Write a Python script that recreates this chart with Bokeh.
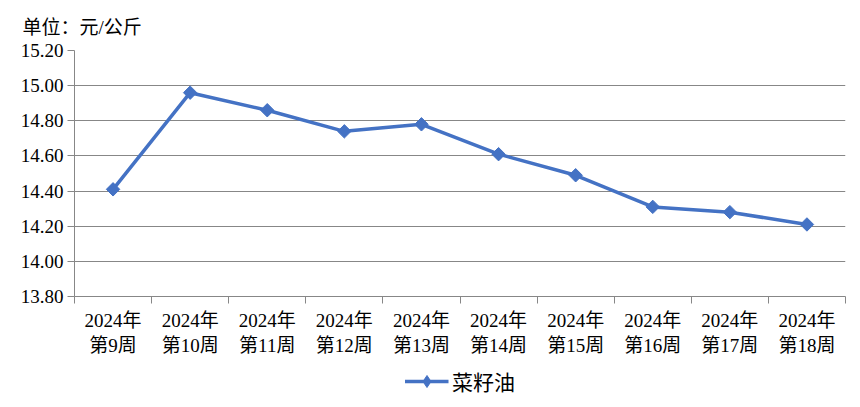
from bokeh.plotting import figure
from bokeh.models import FixedTicker, NumeralTickFormatter, Legend, LegendItem, Range1d
from bokeh.layouts import column
from bokeh.embed import file_html
from bokeh.resources import INLINE
import math

weeks = ["2024年\n第9周", "2024年\n第10周", "2024年\n第11周", "2024年\n第12周", "2024年\n第13周",
         "2024年\n第14周", "2024年\n第15周", "2024年\n第16周", "2024年\n第17周", "2024年\n第18周"]
prices = [14.41, 14.96, 14.86, 14.74, 14.78, 14.61, 14.49, 14.31, 14.28, 14.21]
y_ticks = [13.80, 14.00, 14.20, 14.40, 14.60, 14.80, 15.00, 15.20]
series_name = "菜籽油"
unit_text = "单位：元/公斤"

FONT = "'Liberation Serif', 'Noto Sans CJK SC'"
GRID = "#878787"
BLUE = "#4472C4"
LINE_W = 3.5
MARK_SIZE = 9.5

xs = list(range(len(weeks)))

p = figure(width=852, height=363, output_backend="svg", toolbar_location=None,
           x_range=Range1d(-0.5, len(weeks) - 0.5), y_range=Range1d(y_ticks[0], y_ticks[-1]),
           min_border_left=74, min_border_right=7, min_border_top=50, min_border_bottom=67)

p.title.text = unit_text
p.title.align = "left"
p.title.offset = -52
p.title.standoff = 25
p.title.text_font = FONT
p.title.text_font_size = "19px"
p.title.text_font_style = "normal"
p.title.text_color = "#000000"

p.outline_line_color = None
p.background_fill_color = "white"
p.border_fill_color = "white"

p.xgrid.visible = False
p.ygrid.grid_line_color = GRID
p.ygrid.grid_line_width = 1
p.ygrid.ticker = FixedTicker(ticks=y_ticks)

p.yaxis.ticker = FixedTicker(ticks=y_ticks)
p.yaxis.formatter = NumeralTickFormatter(format="0.00")
p.yaxis.axis_line_color = GRID
p.yaxis.major_tick_line_color = GRID
p.yaxis.major_tick_out = 7
p.yaxis.major_tick_in = 0
p.yaxis.minor_tick_line_color = None
p.yaxis.major_label_text_font = FONT
p.yaxis.major_label_text_font_size = "19px"
p.yaxis.major_label_text_color = "#000000"
p.yaxis.major_label_standoff = 4

p.xaxis.ticker = FixedTicker(ticks=xs, minor_ticks=[i - 0.5 for i in range(len(weeks) + 1)])
p.xaxis.major_label_overrides = {i: w for i, w in zip(xs, weeks)}
p.xaxis.axis_line_color = GRID
p.xaxis.major_tick_line_color = None
p.xaxis.major_tick_out = 0
p.xaxis.major_tick_in = 0
p.xaxis.minor_tick_line_color = GRID
p.xaxis.minor_tick_out = 7
p.xaxis.minor_tick_in = 0
p.xaxis.major_label_text_font = FONT
p.xaxis.major_label_text_font_size = "19px"
p.xaxis.major_label_text_color = "#000000"
p.xaxis.major_label_standoff = 6

p.line(xs, prices, line_color=BLUE, line_width=LINE_W)
p.scatter(xs, prices, marker="square", angle=math.pi / 4, size=MARK_SIZE,
          fill_color=BLUE, line_color=BLUE)

# legend strip below the chart (its own proxy glyphs lie outside its view)
q = figure(width=852, height=36, output_backend="svg", toolbar_location=None,
           x_range=Range1d(-1, -0.5), y_range=Range1d(0, 1),
           min_border_left=0, min_border_right=0, min_border_top=0, min_border_bottom=0)
q.axis.visible = False
q.grid.visible = False
q.outline_line_color = None
q.background_fill_color = "white"
q.border_fill_color = "white"
lg_line = q.line(xs[:2], prices[:2], line_color=BLUE, line_width=LINE_W)
lg_mark = q.scatter(xs[:1], prices[:1], marker="diamond", size=MARK_SIZE,
                    fill_color=BLUE, line_color=BLUE)
legend = Legend(items=[LegendItem(label=series_name, renderers=[lg_line, lg_mark])],
                location="center", orientation="horizontal",
                border_line_color=None, background_fill_alpha=0,
                label_text_font=FONT, label_text_font_size="21px", label_text_color="#000000",
                glyph_width=44, glyph_height=30, spacing=0, padding=2, margin=0,
                label_standoff=4)
q.add_layout(legend, "center")

layout = column(p, q, spacing=0)
open("out.html", "w").write(file_html(layout, INLINE))
